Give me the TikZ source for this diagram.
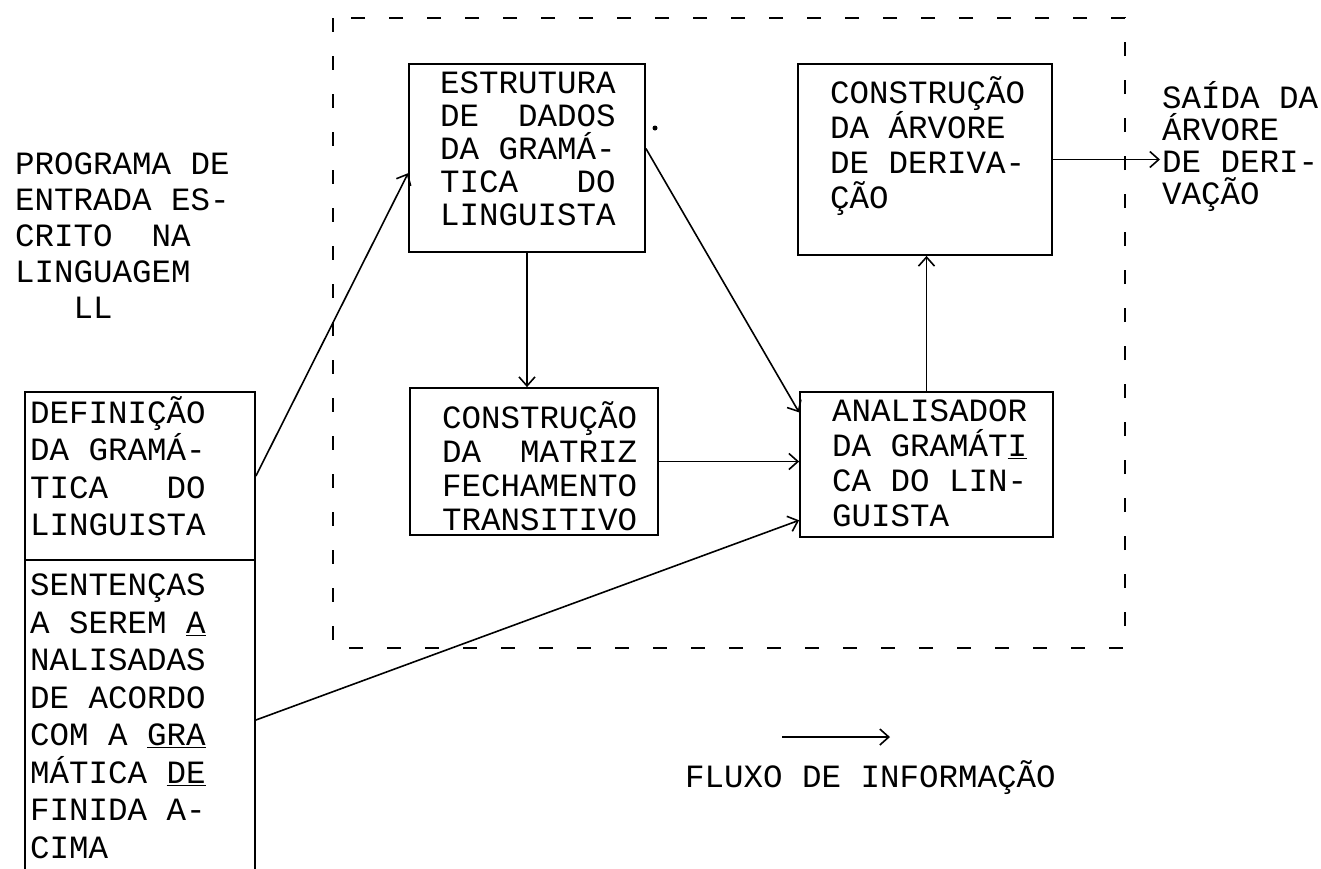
\documentclass[tikz,border=0pt]{standalone}
\usepackage{fontspec}
\setmonofont{Liberation Mono}
\usetikzlibrary{arrows.meta,calc}
\begin{document}
\begin{tikzpicture}[x=1pt,y=-1pt,
  tw/.style={font=\ttfamily\fontsize{32.5}{#1}\selectfont, align=left, anchor=north west, inner sep=0pt, execute at begin node=\strut},
  tw/.default=35,
  box/.style={draw, line width=1.8pt, inner sep=0pt},
  flow/.style={line width=1.6pt, -{Straight Barb[length=9pt,width=16pt,line width=1.6pt]}},
  frame/.style={line width=1.8pt, dash pattern=on 14pt off 24pt}]
\useasboundingbox (0,0) rectangle (1321,868);

% outer dashed frame
\draw[frame] (333,18) rectangle (1125,648);

% boxes
\node[box, minimum width=230pt, minimum height=168pt] (defbox) at (140,476) {};
\node[box, minimum width=230pt, minimum height=320pt] (senbox) at (140,720) {};
\node[box, minimum width=236pt, minimum height=188pt] (estr) at (527,158) {};
\node[box, minimum width=248pt, minimum height=147pt] (matr) at (534,461.5) {};
\node[box, minimum width=254pt, minimum height=191pt] (arv) at (925,159.5) {};
\node[box, minimum width=253pt, minimum height=145pt] (anal) at (926.5,464.5) {};

% texts
\node[tw=36] (prog) at (15,153) {PROGRAMA DE\\ENTRADA ES-\\CRITO~~NA\\LINGUAGEM\\~~~LL};
\node[tw=37.5] (deft) at (30,396) {DEFINIÇÃO\\DA GRAMÁ-\\TICA~~~DO\\LINGUISTA};
\node[tw=37.5] (sent) at (30,574) {SENTENÇAS\\A SEREM \underline{A}\\NALISADAS\\DE ACORDO\\COM A \underline{GRA}\\MÁTICA \underline{DE}\\FINIDA A-\\CIMA};
\node[tw=33] (estrt) at (440,72) {ESTRUTURA\\DE~~DADOS\\DA GRAMÁ-\\TICA~~~DO\\LINGUISTA};
\node[tw=34] (matrt) at (442,401) {CONSTRUÇÃO\\DA~~MATRIZ\\FECHAMENTO\\TRANSITIVO};
\node[tw=35] (arvt) at (830,76) {CONSTRUÇÃO\\DA ÁRVORE\\DE DERIVA-\\ÇÃO};
\node[tw=35] (analt) at (832,400) {ANALISADOR\\DA GRAMÁT\underline{I}\\CA DO LIN-\\GUISTA};
\node[tw=32] (saida) at (1162,81) {SAÍDA DA\\ÁRVORE\\DE DERI-\\VAÇÃO};
\node[tw, anchor=west] (fluxo) at (685,779) {FLUXO DE INFORMAÇÃO};

% stray dot next to the first box
\fill (655,128) circle (2.5pt);

% connectors
\draw[flow] (defbox.east) -- ($(estr.north west)!0.58!(estr.south west)$);
\draw[flow] ($(estr.north east)!0.45!(estr.south east)$) -- ($(anal.north west)!0.145!(anal.south west)$);
\draw[flow] (estr.south) -- (estr.south |- matr.north);
\draw[flow] (matr.east) -- (matr.east -| anal.west);
\draw[flow] (senbox.east) -- ($(anal.north west)!0.88!(anal.south west)$);
\draw[flow] (anal.north) -- (anal.north |- arv.south);
\coordinate (outtip) at (1160,159.5);
\draw[flow] (arv.east) -- (outtip);

% legend
\coordinate (legs) at (782,737);
\coordinate (lege) at (890,737);
\draw[flow] (legs) -- (lege);
\end{tikzpicture}
\end{document}
